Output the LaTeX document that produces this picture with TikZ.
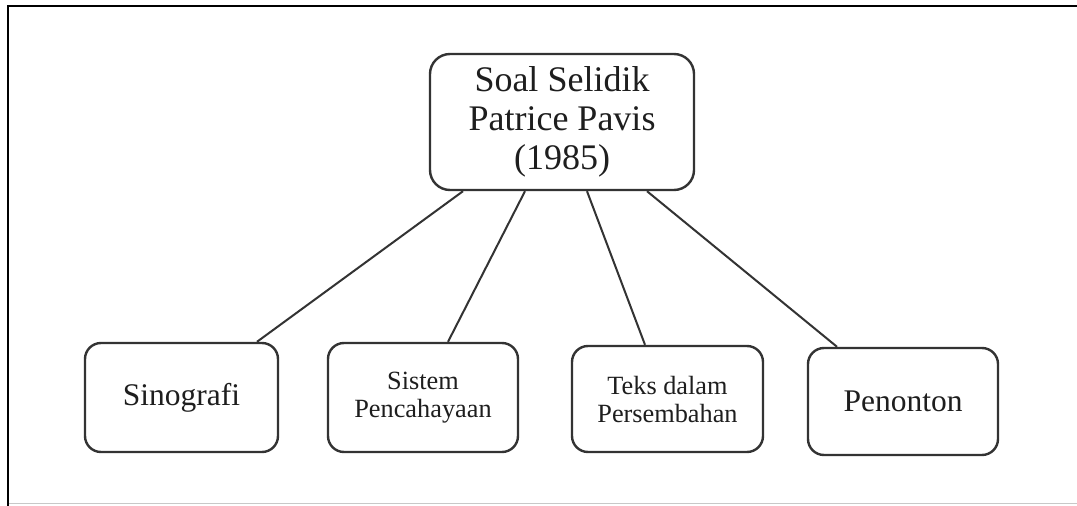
\documentclass[tikz,border=0pt]{standalone}
\usepackage{fontspec}
\setmainfont{Liberation Serif}
\definecolor{boxline}{HTML}{333333}
\definecolor{txt}{HTML}{1E1E1E}
\definecolor{framegray}{HTML}{C8C8C8}
\begin{document}
\begin{tikzpicture}[x=1pt,y=-1pt,
  topbox/.style={draw=boxline, line width=2.4pt, rounded corners=20pt, align=center,
    minimum width=264pt, minimum height=136pt, inner sep=0pt, text=txt,
    font=\fontsize{36}{39}\selectfont},
  bigbox/.style={draw=boxline, line width=2.4pt, rounded corners=16pt, align=center,
    inner sep=0pt, text=txt, font=\fontsize{31.5}{34}\selectfont},
  smallbox/.style={draw=boxline, line width=2.4pt, rounded corners=16pt, align=center,
    inner sep=0pt, text=txt, font=\fontsize{26.3}{28}\selectfont},
  link/.style={draw=boxline, line width=2pt}
]
\useasboundingbox (0,0) rectangle (1077,506);
\fill[white] (0,0) rectangle (1077,506);
% frame
\draw[framegray, line width=1pt] (8,503) -- (1077,503);
\draw[black, line width=2pt] (8,506) -- (8,6) -- (1077,6);

\node[topbox] (top) at (562,122) {Soal Selidik\\Patrice Pavis\\(1985)};
\node[bigbox, minimum width=193pt, minimum height=109pt] (sino) at (181.5,397.5) {Sinografi};
\node[smallbox, minimum width=190pt, minimum height=109pt] (sist) at (423,397.5) {Sistem\\Pencahayaan};
\node[smallbox, minimum width=191pt, minimum height=106pt] (teks) at (667.5,399) {Teks dalam\\Persembahan};
\node[bigbox, minimum width=190pt, minimum height=107pt] (peno) at (903,401.5) {Penonton};

\draw[link] ([xshift=-99pt]top.south) -- ([xshift=75.5pt]sino.north);
\draw[link] ([xshift=-37pt]top.south) -- ([xshift=25pt]sist.north);
\draw[link] ([xshift=25pt]top.south) -- ([xshift=-22.5pt]teks.north);
\draw[link] ([xshift=85pt]top.south) -- ([xshift=-66pt]peno.north);
\end{tikzpicture}
\end{document}
